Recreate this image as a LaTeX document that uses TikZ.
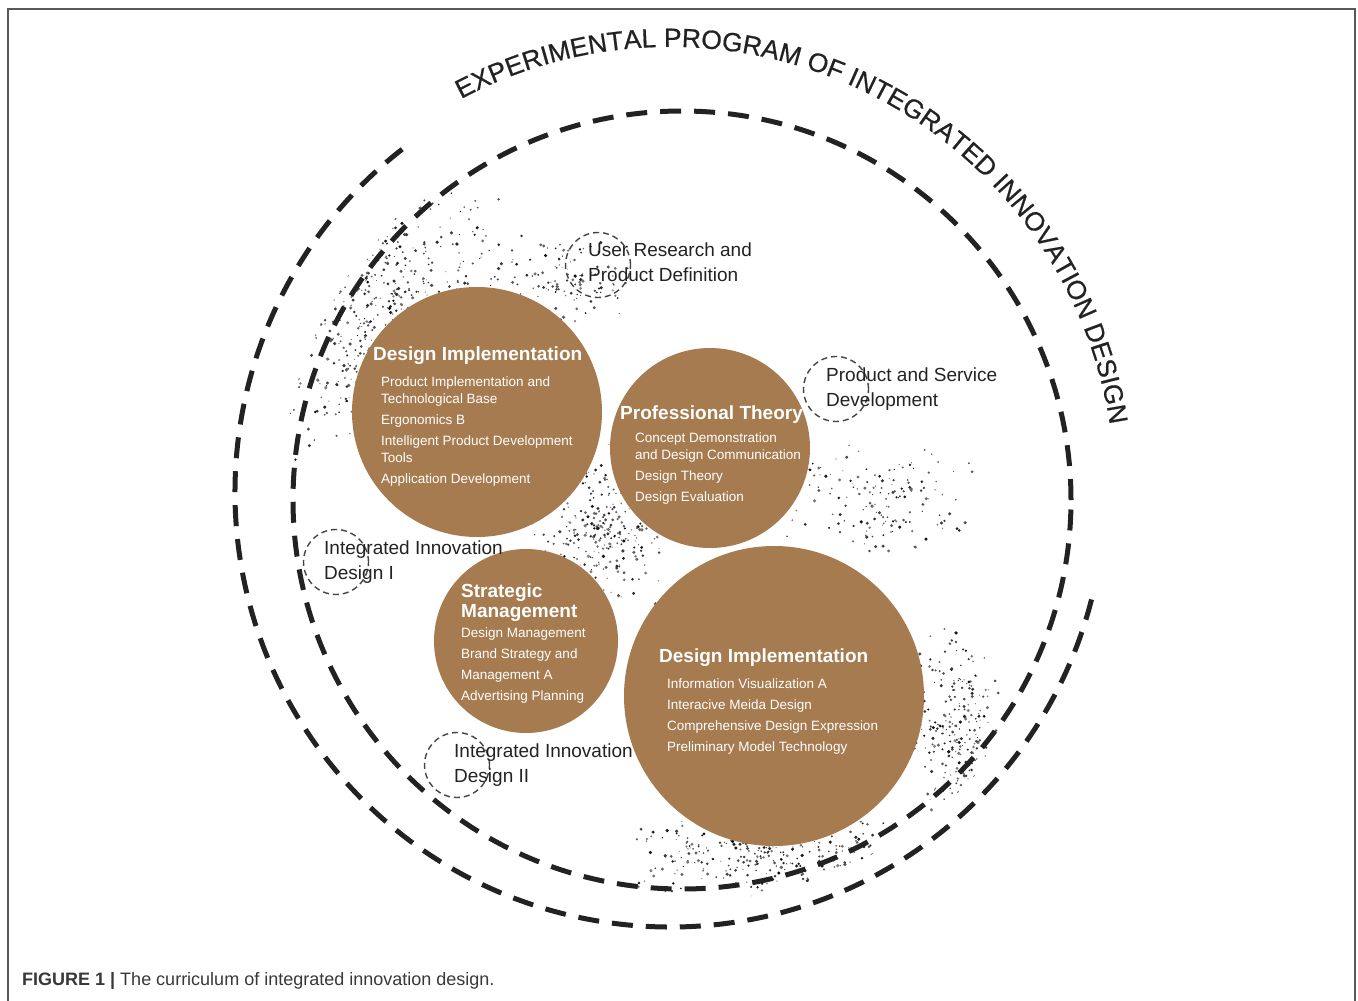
\documentclass[tikz,border=0pt]{standalone}
\usepackage{fontspec}
\setmainfont{Liberation Sans}
\usetikzlibrary{decorations.text}

\definecolor{cbrown}{RGB}{166,123,79}
\definecolor{ink}{RGB}{34,34,34}
\newcommand{\arcfont}{\fontsize{26.4}{27}\selectfont\addfontfeature{FakeBold=0.6}}

\tikzset{
  track/.style={draw=ink, line width=5pt, dash pattern=on 21pt off 13pt},
  ring/.style={circle, draw=ink!85, line width=1.4pt, dash pattern=on 6pt off 4pt, minimum size=65pt, inner sep=0pt},
  ball/.style={circle, fill=cbrown, inner sep=0pt},
  head/.style={font=\fontsize{19}{20}\selectfont\bfseries, text=white, inner sep=0pt, align=left, anchor=north west},
  items/.style={font=\fontsize{13.5}{17}\selectfont, text=white, inner sep=0pt, align=left, anchor=north west},
  lbl/.style={font=\fontsize{19}{25}\selectfont, text=ink, inner sep=0pt, align=left, anchor=north west},
}

\begin{document}
\begin{tikzpicture}[x=1pt, y=-1pt]
  \useasboundingbox (0,0) rectangle (1358,1001);
  \draw[gray!70!black, line width=1.5pt] (8,1001) -- (8,9) -- (1355,9) -- (1355,1001);

  % speckles
  \pgfmathsetseed{4242}
  \begin{scope}
    \clip (682,500) circle[radius=402pt];
    \foreach \cx/\cy/\rx/\ry/\n in {395/320/135/150/750, 560/280/80/50/120, 600/525/75/95/320, 880/500/100/60/160, 770/855/150/42/300, 955/725/45/100/240} {
      \foreach \k in {1,...,\n} {
        \pgfmathsetmacro\px{\cx+\rx*(rand+rand)/2}
        \pgfmathsetmacro\py{\cy+\ry*(rand+rand)/2}
        \pgfmathsetmacro\pr{0.5+1.3*rnd}
        \pgfmathtruncatemacro\pg{50+45*rnd}
        \fill[black!\pg] (\px,\py) circle[radius=\pr pt];
      }
    }
  \end{scope}

  % orbits
  \draw[track] (682,500) circle[radius=389pt];
  \draw[track] (670,492) ++(128:435pt) arc[start angle=128, end angle=346, radius=435pt];
  \path[decorate, decoration={text along path, text align=left,
      text={|\arcfont\color{ink}|EXPERIMENTAL PROGRAM OF INTEGRATED INNOVATION DESIGN}}]
    (670,492) ++(118:445pt) arc[start angle=118, end angle=0, radius=445pt];

  % course groups
  \node (implA) [ball, minimum size=250pt] at (477,412) {};
  \node (theory) [ball, minimum size=200pt] at (710,448) {};
  \node (strat) [ball, minimum size=184pt] at (526,641) {};
  \node (implB) [ball, minimum size=300pt] at (774,696) {};

  \node (implAhead) [head] at (373,347) {Design Implementation};
  \node (implAlist) [items] at (381,377) {Product Implementation and\\Technological Base\\[4pt]Ergonomics B\\[4pt]Intelligent Product Development\\Tools\\[4pt]Application Development};

  \node (theoryhead) [head] at (620,406) {Professional Theory};
  \node (theorylist) [items] at (635,433) {Concept Demonstration\\and Design Communication\\[4pt]Design Theory\\[4pt]Design Evaluation};

  \node (strathead) [head] at (461,584) {Strategic\\Management};
  \node (stratlist) [items] at (461,628) {Design Management\\[4pt]Brand Strategy and\\[4pt]Management A\\[4pt]Advertising Planning};

  \node (implBhead) [head] at (659,649) {Design Implementation};
  \node (implBlist) [items] at (667,679) {Information Visualization A\\[4pt]Interacive Meida Design\\[4pt]Comprehensive Design Expression\\[4pt]Preliminary Model Technology};

  % stages
  \node (userring) [ring] at (598,265) {};
  \node (user) [lbl] at (588,243) {User Research and\\Product Definition};
  \node (servring) [ring] at (836,389) {};
  \node (serv) [lbl] at (826,368) {Product and Service\\Development};
  \node (ioneRing) [ring] at (336,562) {};
  \node (ione) [lbl] at (324,541) {Integrated Innovation\\Design I};
  \node (itwoRing) [ring] at (457,765) {};
  \node (itwo) [lbl] at (454,744) {Integrated Innovation\\Design II};

  \node (caption) [anchor=west, inner sep=0pt, text=ink!90, font=\fontsize{18}{20}\selectfont] at (22,981) {\textbf{FIGURE 1 |} The curriculum of integrated innovation design.};
\end{tikzpicture}
\end{document}
